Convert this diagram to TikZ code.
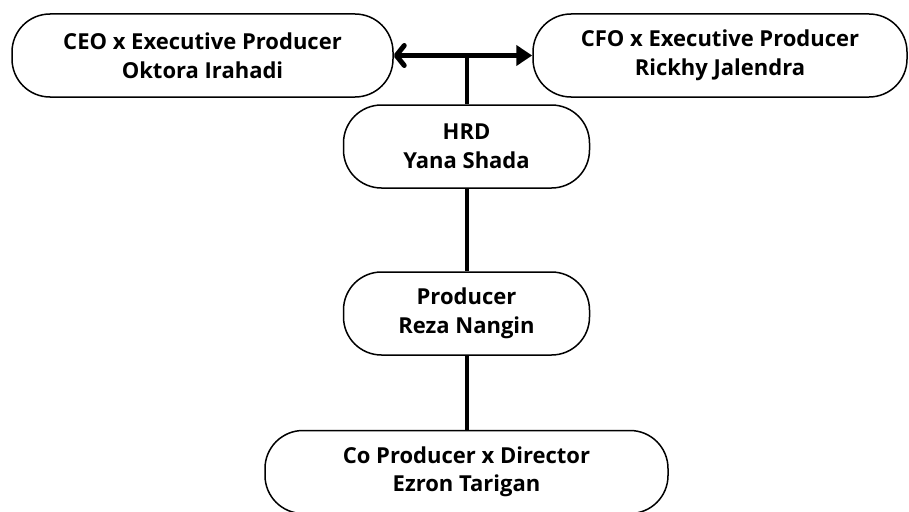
\documentclass[tikz,border=0pt]{standalone}
\usepackage{fontspec}
\setmainfont{Open Sans}
\usetikzlibrary{arrows.meta}

\tikzset{%
  every role/.style={
    rectangle,
    draw,
    line width=1.5pt,
    rounded corners=38pt,
    minimum height=83pt,
    align=center,
    font=\fontsize{22}{28.5}\selectfont\bfseries
  },
  link/.style={
    line width=4pt
  },
}

\begin{document}
\begin{tikzpicture}[x=1pt, y=-1pt]

\useasboundingbox (0,0) rectangle (909,511);

% top row
\node [every role, minimum width=381pt] (ceo) at (202.5,55.5)
  {CEO x Executive Producer\\Oktora Irahadi};
\node [every role, minimum width=374pt] (cfo) at (720,55.5)
  {CFO x Executive Producer\\Rickhy Jalendra};

% chain below
\foreach \n/\w/\y/\t in {hrd/246/146.5/{HRD\\Yana Shada},
                         prod/246/313.5/{Producer\\Reza Nangin},
                         co/403/472/{Co Producer x Director\\Ezron Tarigan}}
  \node [every role, minimum width=\w pt] (\n) at (466.5,\y) {\t};

\draw [link, line width=5pt,
       {Straight Barb[length=8pt,width=20pt,round]}-{Triangle[length=16pt,width=20pt]}]
  (ceo) -- (cfo);

\draw [link] (hrd.north) -- (hrd.north |- ceo.east);

\foreach \i/\j in {hrd/prod, prod/co}
  \draw [link] (\i) -- (\j);

\end{tikzpicture}
\end{document}
